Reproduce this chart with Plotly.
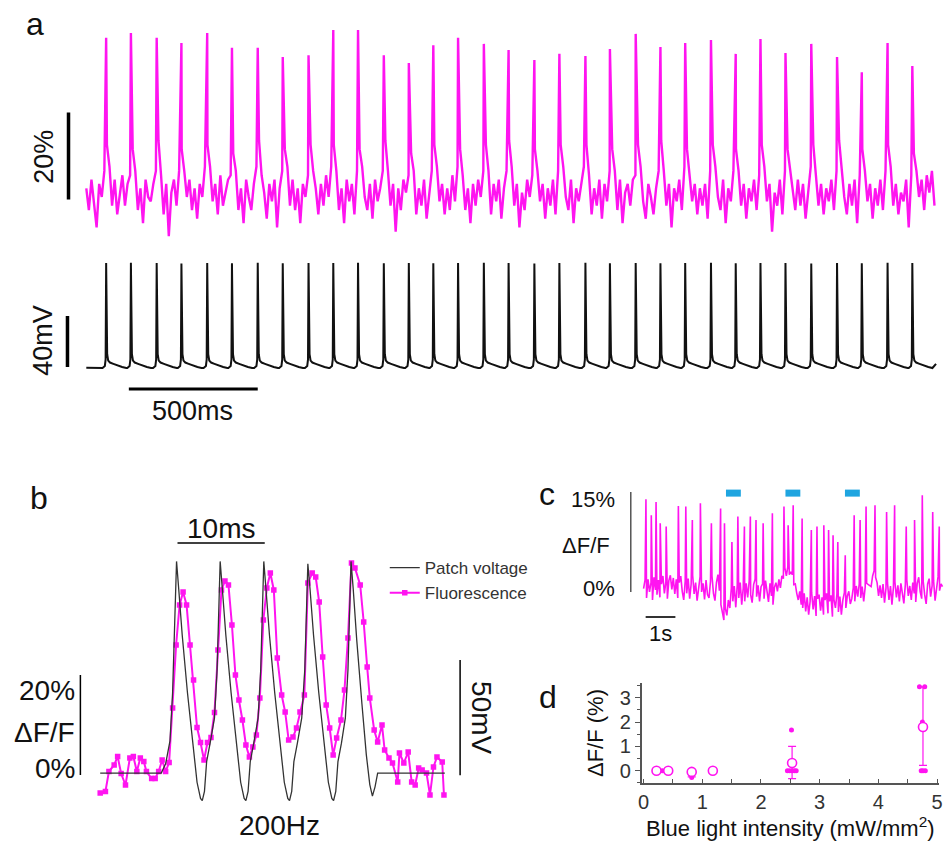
import numpy as np
import plotly.graph_objects as go

# ---------------- DATA ----------------
# Panel a: spontaneous firing, ~3.3 s
a_spike_t_ms = [77, 173, 273, 369, 469, 565, 665, 762, 862, 958, 1054, 1154, 1251, 1346, 1442,
                1542, 1638, 1738, 1835, 1936, 2031, 2131, 2227, 2323, 2423, 2519, 2615, 2712,
                2812, 2912, 3008, 3108, 3204]
a_fluor_peak_pct = [36.6, 37.7, 36.6, 35.4, 37.7, 34.3, 34.3, 32.2, 32.6, 38.4, 38.4, 32.6, 30.8,
                    34.9, 36.6, 35.2, 33.8, 31.5, 32.9, 32.4, 34.0, 37.5, 34.5, 35.4, 36.1, 32.9,
                    36.3, 33.1, 35.2, 32.2, 28.7, 35.4, 30.1]
a_fluor_sample_step_ms = 10
a_fluor_baseline_pct = [
    2, -3, 4, -1, -7, 3, 0, 6, 12, 7,
    -2, 4, -4, 1, 5, -2, 3, 5, 11, 6,
    -3, 2, -6, 4, 0, -1, 3, 6, 13, 5,
    -4, 3, -9, 1, 4, -2, 6, 11, 6, 0,
    4, -3, 2, -5, 3, 0, 7, 12, 7, -1,
    3, -4, 5, -2, 1, 4, 5, 10, 6, -3,
    2, -6, 4, 0, -3, 3, 7, 13, 5, 1,
    -5, 3, -1, 4, -7, 2, 6, 11, 7, -2,
    4, -3, 2, -6, 3, 0, 5, 12, 6, 2,
    -4, 3, -2, 5, 0, 7, 12, 6, -3, 2,
    -6, 4, -1, 3, -4, 6, 11, 7, 0, -3,
    3, -5, 4, -1, 2, 6, 13, 6, -2, 3,
    -8, 2, -3, 4, 1, 5, 10, 6, -4, 2,
    -2, 4, -5, 1, 6, 12, 7, -1, 3, -4,
    2, -3, 5, -1, 7, 11, 5, -3, 2, -6,
    3, -2, 4, 0, 6, 12, 6, -4, 3, -1,
    4, -5, 2, 6, 13, 7, -2, 3, -7, 1,
    -3, 4, 0, 5, 11, 6, -1, 3, -5, 2,
    -2, 4, -4, 6, 12, 7, 0, -3, 4, -6,
    2, -1, 3, 7, 12, 5, -4, 2, -2, 4,
    -5, 3, -1, 6, 11, 6, -3, 4, -6, 1,
    3, -2, 4, 5, 12, 7, -1, -5, 3, 0,
    -4, 2, 6, 13, 6, -2, 3, -7, 2, -1,
    4, -3, 7, 11, 5, -1, 3, -4, 2, -2,
    3, -5, 6, 12, 7, 0, -3, 4, -6, 2,
    -1, 6, 11, 6, -2, 3, -5, 2, -1, 4,
    -3, 5, 12, 7, -1, 3, -8, 1, -2, 4,
    -4, 6, 11, 6, 2, -3, 4, -2, 3, -5,
    1, 7, 12, 5, -2, 3, -4, 2, -1, 4,
    -3, 6, 13, 6, 0, -4, 3, -2, 4, -6,
    5, 11, 6, -1, 3, -5, 2, -2, 4, -3,
    6, 12, 7, -2, 3, -4, 1, -1, 4, -7,
    5, 10, 6, 0, 4, -3, 5, 1, 6, -2]
a_volt_peak_mv = [81.6, 81.8, 81.5, 81.2, 81.6, 81.4, 81.8, 81.3, 81.6, 81.5, 81.7, 81.4, 81.6,
                  81.3, 81.5, 81.8, 81.6, 81.2, 81.5, 81.7, 81.4, 81.6, 81.3, 81.5, 81.8, 81.4,
                  81.6, 81.5, 81.2, 81.6, 81.4, 81.7, 81.5]
# action potential waveform around each spike (offset ms, mV; None = peak)
ap_offset_ms = [-14, -5, -2, 0, 2, 4, 8, 15, 28, 45, 62, 78]
ap_value_mv = [-0.8, 0.8, 6, None, 30, 10, 5, 3.5, 2.5, 1, 0, -0.8]
a_volt_start = (0, -0.5)
a_volt_end = (3296, 2.5)

# Panel b: 200 Hz train
b_volt_t_ms = [0, 7.0, 7.5, 8.0, 8.3, 8.55, 8.75, 9.0, 9.4, 10.0, 10.6, 11.1, 11.5, 11.7, 11.95,
               12.2, 12.6, 13.1, 13.4, 13.6, 13.75, 14.0, 14.4, 15.0, 15.6, 16.1, 16.5, 16.7,
               16.95, 17.2, 17.6, 18.1, 18.4, 18.6, 18.75, 19.0, 19.4, 20.0, 20.6, 21.1, 21.5,
               21.7, 21.95, 22.2, 22.6, 23.1, 23.45, 23.65, 23.8, 24.05, 24.45, 25.05, 25.65,
               26.15, 26.55, 26.75, 27.0, 27.25, 27.65, 28.1, 28.4, 28.6, 28.75, 29.0, 29.4,
               30.0, 30.5, 30.9, 31.2, 31.5, 31.8, 32.2, 39.5]
b_volt_mv = [0, 0, 4, 14, 35, 70, 92, 80, 60, 35, 12, -4, -11, -12, -8,
             5, 13, 24, 45, 75, 92, 80, 60, 35, 12, -4, -11, -12,
             -8, 5, 13, 24, 45, 75, 92, 80, 60, 35, 12, -4, -11,
             -12, -8, 5, 13, 24, 45, 75, 91, 80, 60, 35, 12,
             -4, -11, -12, -8, 5, 13, 24, 45, 75, 92, 80, 58,
             30, 8, -5, -10, -6, 0, 0, 0]
b_fluor_t_ms = [0.0, 0.6, 1.0, 1.6, 2.0, 2.4, 2.9, 3.4, 3.8, 4.2, 4.6, 5.0, 5.3, 5.9, 6.3, 6.7,
                7.1, 7.5, 7.9,
                8.3, 8.7, 9.1, 9.5, 9.9, 10.3, 10.7, 11.1, 11.5, 11.9, 12.3, 12.7, 13.1,
                13.5, 13.9, 14.3, 14.7, 15.1, 15.5, 15.9, 16.3, 16.7, 17.1, 17.5, 17.9,
                18.3, 18.7, 19.1, 19.5, 19.9, 20.3, 20.8, 21.2, 21.6, 22.1, 22.5, 22.9, 23.4,
                23.8, 24.3, 24.7, 25.1, 25.5, 25.9, 26.3, 26.7, 27.1, 27.6, 28.0, 28.4,
                28.8, 29.2, 29.8, 30.2, 30.6, 30.9, 31.4, 31.8, 32.3, 32.6, 33.1, 33.5, 34.1,
                34.3, 34.8, 35.3, 35.7, 36.1, 36.5, 36.9, 37.4, 37.8, 38.2, 38.6, 39.2, 39.4]
b_fluor_pct = [-3.6, -3.3, 0.7, 2.0, 3.7, 0.3, -2.0, 3.4, 3.7, 0.7, 3.4, 2.7, 0.7, -0.7, -0.7, 0.7,
               3.0, 0.7, 2.5,
               13.4, 26, 34, 36.6, 34, 26, 19, 9.5, 6.5, 3.0, 6.5, 7.5, 12.5,
               25, 37, 38.8, 38, 30, 20, 15, 11, 6, 3.6, 5.6, 8.0,
               15.4, 31, 37.4, 40.4, 37, 23.4, 16, 12.6, 7, 7.6, 9.4, 12.6, 16,
               38.4, 40.4, 39.6, 34.6, 23.6, 14, 9.4, 4, 7.4, 11, 17, 27.4,
               42.4, 41.4, 38, 30.6, 21.6, 15.4, 9, 6.6, 10, 5, 3.4, 2.4, -1.4,
               4.4, 2.4, 4.6, -1.4, -2, 1.4, 1, 0.4, -4, 1.6, 3.6, 2.6, -4]

# Panel c: blue light stimulation, ~10 s
c_spike_t_s = [0.08, 0.26, 0.42, 0.56, 0.76, 1.17, 1.42, 1.64, 1.91, 2.28, 2.59, 2.72, 2.97,
               3.17, 3.39, 3.59, 3.78, 4.02, 4.33, 4.72, 4.86, 5.03, 5.33, 5.64, 5.83, 6.06,
               6.22, 6.37, 6.53, 6.78, 7.08, 7.28, 7.48, 7.78, 8.17, 8.44, 8.83, 9.11, 9.37,
               9.72, 9.94]
c_spike_peak_pct = [13.9, 11.5, 13.5, 10.3, 9.8, 12.9, 12.8, 10.8, 13.3, 10.3, 12.5, 10.3, 7.5,
                    11.3, 9.8, 11.3, 10.8, 10.3, 11.8, 12.8, 10.0, 13.0, 11.0, 9.3, 9.8, 10.0,
                    9.3, 8.5, 7.5, 5.5, 11.5, 10.8, 12.8, 13.0, 12.0, 13.0, 9.8, 10.8, 14.5,
                    12.0, 9.8]
c_sample_step_s = 0.05
c_baseline_pct = [
    0.5, 1.8, -0.9, 1.9, 0.0, 1.4, -1.2, 2.2, 0.3, -0.4, 1.8, -0.8, 1.2, 2.4, -0.2, 1.5, -1.0, 1.7, 2.5, 0.4,
    2.1, -0.3, 1.9, -0.9, 1.4, 2.4, 0.1, -1.2, 1.6, -0.2, 2.0, -1.0, 1.2, 2.5, -0.3, 1.4, -1.3, 1.0, 2.3, 0.0,
    1.3, -1.1, 1.8, -0.4, -0.9, 1.6, 2.4, -0.2, -1.3, 1.4, 2.6, 0.2, -1.9, -3.0, -4.2, -2.5, -3.5, -1.2, -2.4, 0.6,
    -1.4, 0.9, -2.3, 1.1, -0.9, 1.4, -1.9, 0.6, -1.4, 1.3, -0.8, 1.6, -0.4, -1.6, 1.1, 1.9, -0.7, 1.0, -1.4, 0.8,
    1.2, -1.0, 1.7, -0.3, -1.5, 1.3, -0.6, -1.9, 0.7, 1.4, 0.1, 1.9, 0.6, 2.4, 2.0, 3.6, 2.4, 3.8, 2.6, 3.0,
    2.6, 1.1, 1.2, -0.2, -1.2, 0.1, -1.9, -2.4, -0.2, -2.9, -0.8, -3.4, -1.4, -0.1, -2.6, -0.6, -3.6, -1.0, -0.4, -2.8,
    -0.8, -3.4, -1.2, -0.2, -3.2, -1.4, -0.5, -3.7, -1.1, -2.4, -0.3, -3.0, -0.7, -3.4, -1.2, -0.1, -2.4, -0.6, 0.1, -1.8,
    -1.0, 0.6, -1.4, 0.9, -0.7, 1.2, -0.9, 0.8, -1.4, 0.7, 1.3, 1.1, 1.0, 0.8, 2.4, 3.2, 2.2, 1.4, -0.6, 1.0,
    -0.9, 1.2, -1.6, 0.6, 1.4, -1.2, 0.9, -1.9, 0.7, 1.5, -0.8, 1.0, -1.4, 1.3, -0.3, -1.7, 1.1, 1.8, -0.6, 0.9,
    -1.2, 1.4, -0.2, -1.5, 1.3, 2.2, 0.0, -1.0, 1.6, -0.4, -1.8, 1.2, 2.0, -0.7, 0.9, 1.7, -1.3, 0.8, 2.3, 0.2,
    1.2, 0.8]
c_light_on_s = [2.77, 4.77, 6.77]
c_light_off_s = [3.27, 5.27, 7.27]

# Panel d: response vs blue light intensity
d_mean_x = [0.22, 0.42, 0.82, 1.18, 2.53, 4.76]
d_mean_y = [0.0, 0.0, -0.05, 0.0, 0.32, 1.80]
d_err_plus = [0.05, 0.05, 0.05, 0.05, 0.68, 1.65]
d_err_minus = [0.05, 0.05, 0.2, 0.05, 0.65, 1.58]
d_ind_x = [0.19, 0.25, 0.32, 0.39, 0.45, 0.79, 0.85, 0.82, 1.15, 1.21, 2.45, 2.49, 2.53, 2.57,
           2.60, 2.52, 4.70, 4.79, 4.75, 4.73, 4.76, 4.80]
d_ind_y = [0, 0, 0, 0, 0, 0, 0, -0.28, 0, 0, 0, 0, 0, 0, 0, 1.68, 3.45, 3.45, 2.0, 0, 0, 0]

# ---------------- STYLE / LAYOUT HELPERS ----------------
W, H = 950, 846
MAG = "#FF14F0"
BLUE = "#1FA5E0"
FONT = "Arial, Liberation Sans, sans-serif"


def dx(p0, p1):
    return [p0 / W, p1 / W]


def dy(top, bot):
    return [1 - bot / H, 1 - top / H]


def px(x):
    return x / W


def py(y):
    return 1 - y / H


fig = go.Figure()

# ---- panel a magenta fluorescence ----
a_grid_t = list(np.arange(len(a_fluor_baseline_pct)) * a_fluor_sample_step_ms)
mt = np.array(a_grid_t + a_spike_t_ms, dtype=float)
mv = np.array(a_fluor_baseline_pct + a_fluor_peak_pct, dtype=float)
o = np.argsort(mt, kind="stable")
fig.add_trace(go.Scatter(x=mt[o], y=mv[o], mode="lines", line=dict(color=MAG, width=2.4),
                         xaxis="x", yaxis="y", showlegend=False, hoverinfo="skip"))

# ---- panel a black voltage ----
bt, bv = [a_volt_start[0]], [a_volt_start[1]]
for ts, pk in zip(a_spike_t_ms, a_volt_peak_mv):
    for off, val in zip(ap_offset_ms, ap_value_mv):
        bt.append(ts + off)
        bv.append(pk if val is None else val)
bt.append(a_volt_end[0])
bv.append(a_volt_end[1])
fig.add_trace(go.Scatter(x=bt, y=bv, mode="lines", line=dict(color="#111111", width=2),
                         xaxis="x2", yaxis="y2", showlegend=False, hoverinfo="skip"))

# ---- panel b ----
fig.add_trace(go.Scatter(x=b_fluor_t_ms, y=b_fluor_pct, mode="lines+markers", name="Fluorescence",
                         line=dict(color=MAG, width=2), marker=dict(symbol="square", size=5.5, color=MAG),
                         xaxis="x3", yaxis="y3", legendrank=2))
fig.add_trace(go.Scatter(x=b_volt_t_ms, y=b_volt_mv, mode="lines", name="Patch voltage",
                         line=dict(color="#333333", width=1.3),
                         xaxis="x3", yaxis="y4", legendrank=1))

# ---- panel c ----
c_grid_t = list(np.arange(len(c_baseline_pct)) * c_sample_step_s)
ct = np.array(c_grid_t + c_spike_t_s, dtype=float)
cv = np.array(c_baseline_pct + c_spike_peak_pct, dtype=float)
o = np.argsort(ct, kind="stable")
fig.add_trace(go.Scatter(x=ct[o], y=cv[o], mode="lines", line=dict(color=MAG, width=1.6),
                         xaxis="x5", yaxis="y5", showlegend=False, hoverinfo="skip"))

# ---- panel d ----
fig.add_trace(go.Scatter(x=d_ind_x, y=d_ind_y, mode="markers",
                         marker=dict(color=MAG, size=5), xaxis="x6", yaxis="y6",
                         showlegend=False, cliponaxis=False))
fig.add_trace(go.Scatter(x=d_mean_x, y=d_mean_y, mode="markers",
                         marker=dict(color="white", size=9, line=dict(color=MAG, width=1.6)),
                         error_y=dict(type="data", array=d_err_plus, arrayminus=d_err_minus,
                                      color=MAG, thickness=1.2, width=4),
                         xaxis="x6", yaxis="y6", showlegend=False, cliponaxis=False))

hidden = dict(visible=False, showgrid=False, zeroline=False, fixedrange=True)

layout = dict(
    width=W, height=H, margin=dict(l=0, r=0, t=0, b=0), autosize=False,
    paper_bgcolor="white", plot_bgcolor="rgba(0,0,0,0)",
    font=dict(family=FONT, color="#222222"),
    xaxis=dict(domain=dx(50, 945), range=[-126.9, 3315.4], anchor="y", **hidden),
    yaxis=dict(domain=dy(20, 240), range=[-9.89, 40.69], anchor="x", **hidden),
    xaxis2=dict(domain=dx(50, 945), range=[-126.9, 3315.4], anchor="y2", **hidden),
    yaxis2=dict(domain=dy(250, 400), range=[-25.9, 91.8], anchor="x2", **hidden),
    xaxis3=dict(domain=dx(70, 470), range=[-3.07, 42.39], anchor="y3", **hidden),
    yaxis3=dict(domain=dy(520, 820), range=[-9, 51], anchor="x3", **hidden),
    yaxis4=dict(domain=dy(520, 820), range=[-20.4, 110], anchor="x3", overlaying="y3", **hidden),
    xaxis5=dict(domain=dx(600, 950), range=[-1.5, 10.167], anchor="y5", **hidden),
    yaxis5=dict(domain=dy(480, 640), range=[-7.2, 16.79], anchor="x5", **hidden),
    xaxis6=dict(domain=dx(643, 943), range=[-0.034, 5.034], anchor="y6",
                showgrid=False, zeroline=False, showline=True, linecolor="#555555", linewidth=1.5,
                ticks="inside", ticklen=4, tickwidth=1.2, tickcolor="#555555",
                tickvals=[0, 1, 2, 3, 4, 5], ticktext=["0", "1", "2", "3", "4", "5"],
                tickfont=dict(size=20, color="#333333", family=FONT),
                minor=dict(dtick=0.5, ticks="inside", ticklen=4, tickcolor="#555555", showgrid=False),
                title=dict(text="Blue light intensity (mW/mm<sup>2</sup>)", standoff=6,
                           font=dict(size=22, family=FONT, color="#111111")),
                fixedrange=True),
    yaxis6=dict(domain=dy(683, 783), range=[-0.506, 3.609], anchor="x6",
                showgrid=False, zeroline=False, showline=True, linecolor="#555555", linewidth=1.5,
                ticks="outside", ticklen=5, tickwidth=1.2, tickcolor="#555555",
                tickvals=[0, 1, 2, 3], ticktext=["0", "1", "2", "3"],
                tickfont=dict(size=20, color="#333333", family=FONT),
                minor=dict(dtick=0.5, ticks="outside", ticklen=3, tickcolor="#555555", showgrid=False),
                title=dict(text="ΔF/F (%)", standoff=10,
                           font=dict(size=22, family=FONT, color="#111111")),
                fixedrange=True),
    showlegend=True,
    legend=dict(x=px(384), y=py(550), xanchor="left", yanchor="top", bgcolor="rgba(0,0,0,0)",
                font=dict(size=17, family=FONT, color="#333333"), tracegroupgap=0,
                itemwidth=30),
)
fig.update_layout(**layout)

# ---- scale bars / light pulses (in data units) ----
shapes = [
    dict(type="line", xref="x", yref="y", x0=-69, x1=-69, y0=-0.6, y1=19.4,
         line=dict(color="black", width=3.5)),
    dict(type="line", xref="x2", yref="y2", x0=-73, x1=-73, y0=0, y1=40,
         line=dict(color="black", width=3.5)),
    dict(type="line", xref="x2", yref="y2", x0=165, x1=665, y0=-17.25, y1=-17.25,
         line=dict(color="black", width=3)),
    dict(type="line", xref="x3", yref="y3", x0=-2.27, x1=-2.27, y0=0, y1=20,
         line=dict(color="black", width=1.5)),
    dict(type="line", xref="x3", yref="y4", x0=41.25, x1=41.25, y0=-0.9, y1=49.1,
         line=dict(color="black", width=1.5)),
    dict(type="line", xref="x3", yref="y3", x0=8.86, x1=18.86, y0=46.4, y1=46.4,
         line=dict(color="black", width=1.5)),
    dict(type="line", xref="x5", yref="y5", x0=-0.43, x1=-0.43, y0=0, y1=15,
         line=dict(color="#555555", width=1.5)),
    dict(type="line", xref="x5", yref="y5", x0=0.07, x1=1.07, y0=-3.75, y1=-3.75,
         line=dict(color="#333333", width=2)),
]
for on, off in zip(c_light_on_s, c_light_off_s):
    shapes.append(dict(type="rect", xref="x5", yref="y5", x0=on, x1=off, y0=14.3, y1=15.35,
                       fillcolor=BLUE, line=dict(width=0)))
fig.update_layout(shapes=shapes)


def ann(text, x, y, size, xanchor="center", angle=0, color="#111111"):
    return dict(text=text, x=px(x), y=py(y), xref="paper", yref="paper", showarrow=False,
                xanchor=xanchor, yanchor="middle", textangle=angle,
                font=dict(size=size, family=FONT, color=color))


annotations = [
    ann("a", 31, 24, 32),
    ann("20%", 40, 157, 27, angle=-90),
    ann("40mV", 39, 340, 27, angle=-90),
    ann("500ms", 190, 411, 27),
    ann("b", 35, 498, 32),
    ann("10ms", 219, 528, 28),
    ann("20%", 74, 690, 28, xanchor="right"),
    ann("ΔF/F", 74, 732, 28, xanchor="right"),
    ann("0%", 74, 768, 28, xanchor="right"),
    ann("200Hz", 278, 825, 28),
    ann("50mV", 482, 718, 28, angle=90),
    ann("c", 548, 494, 32),
    ann("15%", 618, 500, 22, xanchor="right"),
    ann("ΔF/F", 613, 545, 22, xanchor="right"),
    ann("0%", 618, 588, 22, xanchor="right"),
    ann("1s", 662, 633, 22),
    ann("d", 549, 697, 32),
]
fig.update_layout(annotations=annotations)

fig.write_html("out.html")
